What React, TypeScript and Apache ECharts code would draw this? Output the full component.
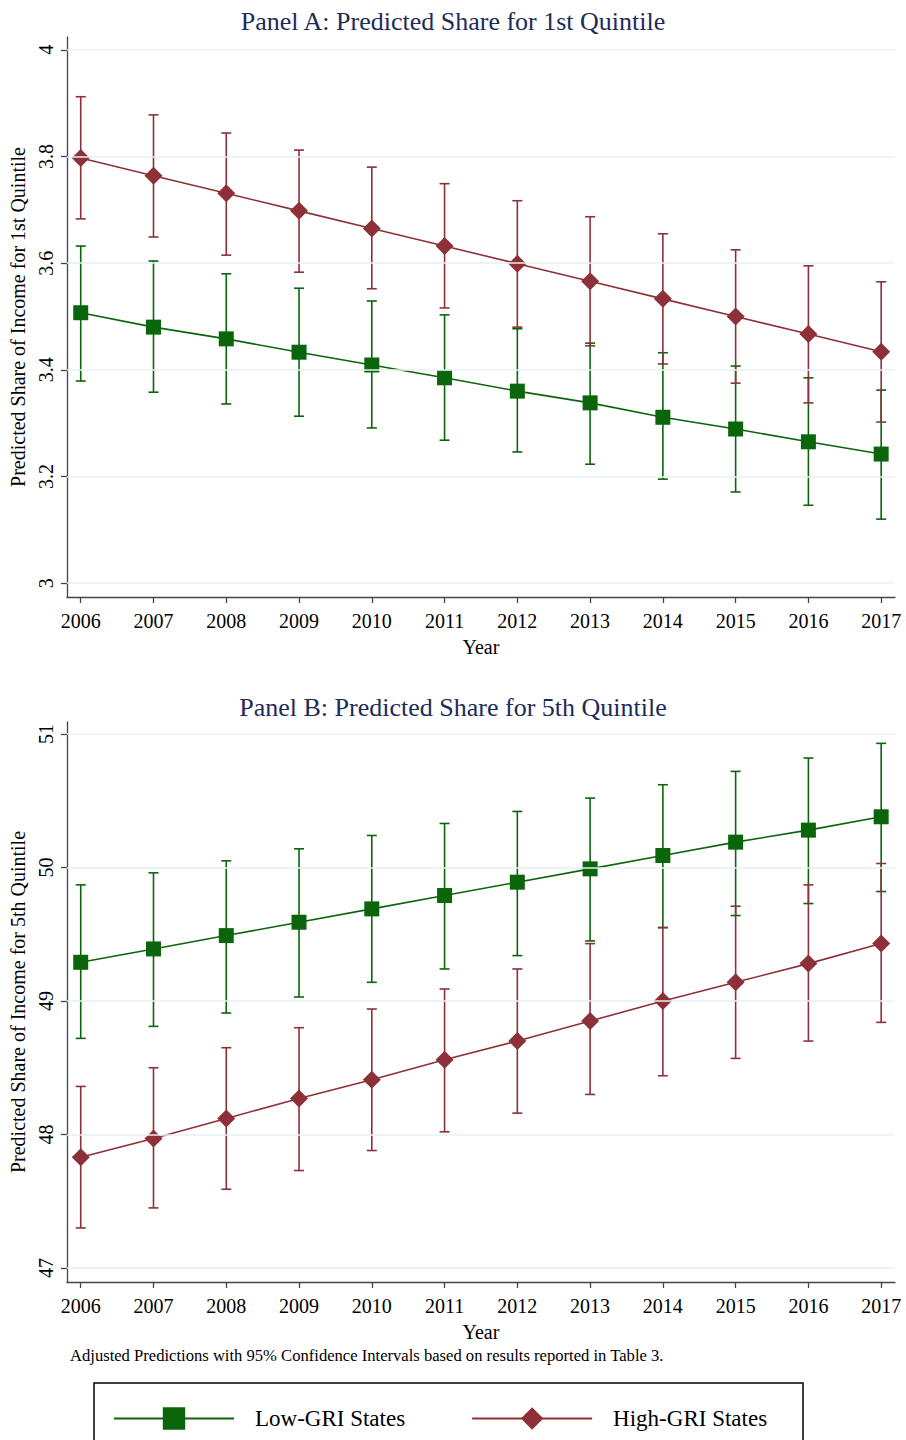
import React, { useEffect, useRef } from "react";
import * as echarts from "echarts";

const years = [2006, 2007, 2008, 2009, 2010, 2011, 2012, 2013, 2014, 2015, 2016, 2017];

// Panel A: 1st quintile
const lowA = [3.507, 3.480, 3.458, 3.433, 3.409, 3.385, 3.360, 3.338, 3.311, 3.289, 3.265, 3.242];
const lowAUpper = [3.632, 3.604, 3.580, 3.553, 3.529, 3.503, 3.477, 3.450, 3.432, 3.407, 3.385, 3.362];
const lowALower = [3.379, 3.358, 3.336, 3.313, 3.291, 3.268, 3.246, 3.223, 3.195, 3.171, 3.146, 3.120];
const highA = [3.797, 3.764, 3.731, 3.698, 3.665, 3.632, 3.599, 3.566, 3.533, 3.500, 3.467, 3.434];
const highAUpper = [3.912, 3.878, 3.844, 3.812, 3.780, 3.749, 3.717, 3.687, 3.655, 3.625, 3.595, 3.565];
const highALower = [3.683, 3.649, 3.615, 3.583, 3.552, 3.516, 3.480, 3.445, 3.411, 3.375, 3.338, 3.302];
const yTicksA = [3, 3.2, 3.4, 3.6, 3.8, 4];

// Panel B: 5th quintile
const lowB = [49.29, 49.39, 49.49, 49.59, 49.69, 49.79, 49.89, 49.99, 50.09, 50.19, 50.28, 50.38];
const lowBUpper = [49.87, 49.96, 50.05, 50.14, 50.24, 50.33, 50.42, 50.52, 50.62, 50.72, 50.82, 50.93];
const lowBLower = [48.72, 48.81, 48.91, 49.03, 49.14, 49.24, 49.34, 49.45, 49.55, 49.64, 49.73, 49.82];
const highB = [47.83, 47.97, 48.12, 48.27, 48.41, 48.56, 48.70, 48.85, 49.00, 49.14, 49.28, 49.43];
const highBUpper = [48.36, 48.50, 48.65, 48.80, 48.94, 49.09, 49.24, 49.43, 49.55, 49.71, 49.87, 50.03];
const highBLower = [47.30, 47.45, 47.59, 47.73, 47.88, 48.02, 48.16, 48.30, 48.44, 48.57, 48.70, 48.84];
const yTicksB = [47, 48, 49, 50, 51];

const titleA = "Panel A: Predicted Share for 1st Quintile";
const titleB = "Panel B: Predicted Share for 5th Quintile";
const yNameA = "Predicted Share of Income for 1st Quintile";
const yNameB = "Predicted Share of Income for 5th Quintile";
const xName = "Year";
const lowName = "Low-GRI States";
const highName = "High-GRI States";
const note = "Adjusted Predictions with 95% Confidence Intervals based on results reported in Table 3.";

const GREEN = "#0b650b";
const RED = "#8e3037";
const FONT = "'Liberation Serif', 'DejaVu Serif', serif";

function pts(vals: number[]) {
  return years.map((y, i) => [y, vals[i]]);
}
function ci(lo: number[], hi: number[]) {
  return years.map((y, i) => [y, lo[i], hi[i]]);
}

function errorBars(name: string, data: number[][], color: string, idx: number) {
  return {
    type: "custom",
    name: name + " CI",
    xAxisIndex: idx,
    yAxisIndex: idx,
    z: 2,
    silent: true,
    data,
    renderItem: (params: any, api: any) => {
      const x = api.value(0);
      const lo = api.coord([x, api.value(1)]);
      const hi = api.coord([x, api.value(2)]);
      const hw = 5;
      const style = { stroke: color, lineWidth: 1.6, fill: "none" };
      return {
        type: "group",
        children: [
          { type: "line", shape: { x1: lo[0], y1: lo[1], x2: hi[0], y2: hi[1] }, style },
          { type: "line", shape: { x1: hi[0] - hw, y1: hi[1], x2: hi[0] + hw, y2: hi[1] }, style },
          { type: "line", shape: { x1: lo[0] - hw, y1: lo[1], x2: lo[0] + hw, y2: lo[1] }, style },
        ],
      };
    },
  };
}

function lineSeries(name: string, vals: number[], color: string, symbol: string, size: number, idx: number) {
  return {
    type: "line",
    name,
    xAxisIndex: idx,
    yAxisIndex: idx,
    z: 3,
    data: pts(vals),
    symbol,
    symbolSize: size,
    showSymbol: true,
    itemStyle: { color, borderWidth: 0 },
    lineStyle: { color, width: 1.6 },
  };
}

function gridSeries(ticks: number[], vals: number[], idx: number) {
  return {
    type: "line",
    name: "grid" + idx,
    xAxisIndex: idx,
    yAxisIndex: idx,
    z: 1,
    silent: true,
    data: pts(vals),
    showSymbol: false,
    symbol: "none",
    lineStyle: { opacity: 0, width: 0 },
    markLine: {
      silent: true,
      symbol: "none",
      animation: false,
      label: { show: false },
      lineStyle: { color: "#e6f0f2", width: 1.5, type: "solid" },
      data: ticks.map((v) => ({ yAxis: v })),
    },
  };
}

function xAxis(idx: number) {
  return {
    type: "value",
    gridIndex: idx,
    min: 2005.81,
    max: 2017.19,
    name: xName,
    nameLocation: "middle",
    nameGap: 40,
    nameTextStyle: { fontFamily: FONT, fontSize: 20, color: "#000" },
    axisLine: { show: true, onZero: false, lineStyle: { color: "#444", width: 1.3 } },
    axisTick: { show: true, length: 6, customValues: years, lineStyle: { color: "#444", width: 1.3 } },
    axisLabel: {
      customValues: years,
      margin: 14,
      fontFamily: FONT,
      fontSize: 20,
      color: "#000",
      formatter: (v: number) => String(v),
    },
    splitLine: { show: false },
  };
}

function yAxis(idx: number, min: number, max: number, ticks: number[], name: string) {
  return {
    type: "value",
    gridIndex: idx,
    min,
    max,
    name,
    nameLocation: "middle",
    nameGap: 38,
    nameTextStyle: { fontFamily: FONT, fontSize: 20, color: "#000" },
    axisLine: { show: true, onZero: false, lineStyle: { color: "#444", width: 1.3 } },
    axisTick: { show: true, length: 6, customValues: ticks, lineStyle: { color: "#444", width: 1.3 } },
    axisLabel: {
      customValues: ticks,
      rotate: 90,
      margin: 11,
      fontFamily: FONT,
      fontSize: 20,
      color: "#000",
      formatter: (v: number) => String(v),
    },
    splitLine: { show: false },
  };
}

export default function App() {
  const ref = useRef<HTMLDivElement>(null);
  useEffect(() => {
    if (!ref.current) return;
    const chart = echarts.init(ref.current, undefined, { renderer: "svg" });
    const option: any = {
      animation: false,
      backgroundColor: "#fff",
      title: [
        {
          text: titleA,
          left: "center",
          top: 3,
          textStyle: { fontFamily: FONT, fontSize: 26, fontWeight: "normal", color: "#1c2b5a" },
        },
        {
          text: titleB,
          left: "center",
          top: 689,
          textStyle: { fontFamily: FONT, fontSize: 26, fontWeight: "normal", color: "#1c2b5a" },
        },
      ],
      grid: [
        { left: 65, right: 11, top: 37, height: 560 },
        { left: 65, right: 11, top: 722, height: 560 },
      ],
      xAxis: [xAxis(0), xAxis(1)],
      yAxis: [
        yAxis(0, 2.974, 4.024, yTicksA, yNameA),
        yAxis(1, 46.895, 51.09, yTicksB, yNameB),
      ],
      legend: {
        data: [lowName, highName],
        left: 108,
        top: 1402,
        itemWidth: 120,
        itemHeight: 28,
        itemGap: 66,
        textStyle: { fontFamily: FONT, fontSize: 23, color: "#000", padding: [0, 0, 0, 16] },
      },
      graphic: [
        {
          type: "text",
          left: 70,
          top: 1347,
          style: { text: note, font: "16.6px 'Liberation Serif', serif", fill: "#000" },
        },
        {
          type: "rect",
          shape: { x: 94, y: 1383, width: 709, height: 80 },
          style: { fill: "none", stroke: "#000", lineWidth: 1.5 },
        },
      ],
      series: [
        gridSeries(yTicksA, lowA, 0),
        errorBars(lowName, ci(lowALower, lowAUpper), GREEN, 0),
        errorBars(highName, ci(highALower, highAUpper), RED, 0),
        lineSeries(lowName, lowA, GREEN, "rect", 15, 0),
        lineSeries(highName, highA, RED, "diamond", 18, 0),
        gridSeries(yTicksB, lowB, 1),
        errorBars(lowName, ci(lowBLower, lowBUpper), GREEN, 1),
        errorBars(highName, ci(highBLower, highBUpper), RED, 1),
        lineSeries(lowName, lowB, GREEN, "rect", 15, 1),
        lineSeries(highName, highB, RED, "diamond", 18, 1),
      ],
    };
    chart.setOption(option);
    return () => chart.dispose();
  }, []);
  return (
    <div
      ref={ref}
      style={{ position: "absolute", left: 0, top: 0, width: 906, height: 1440, background: "#fff" }}
    />
  );
}
